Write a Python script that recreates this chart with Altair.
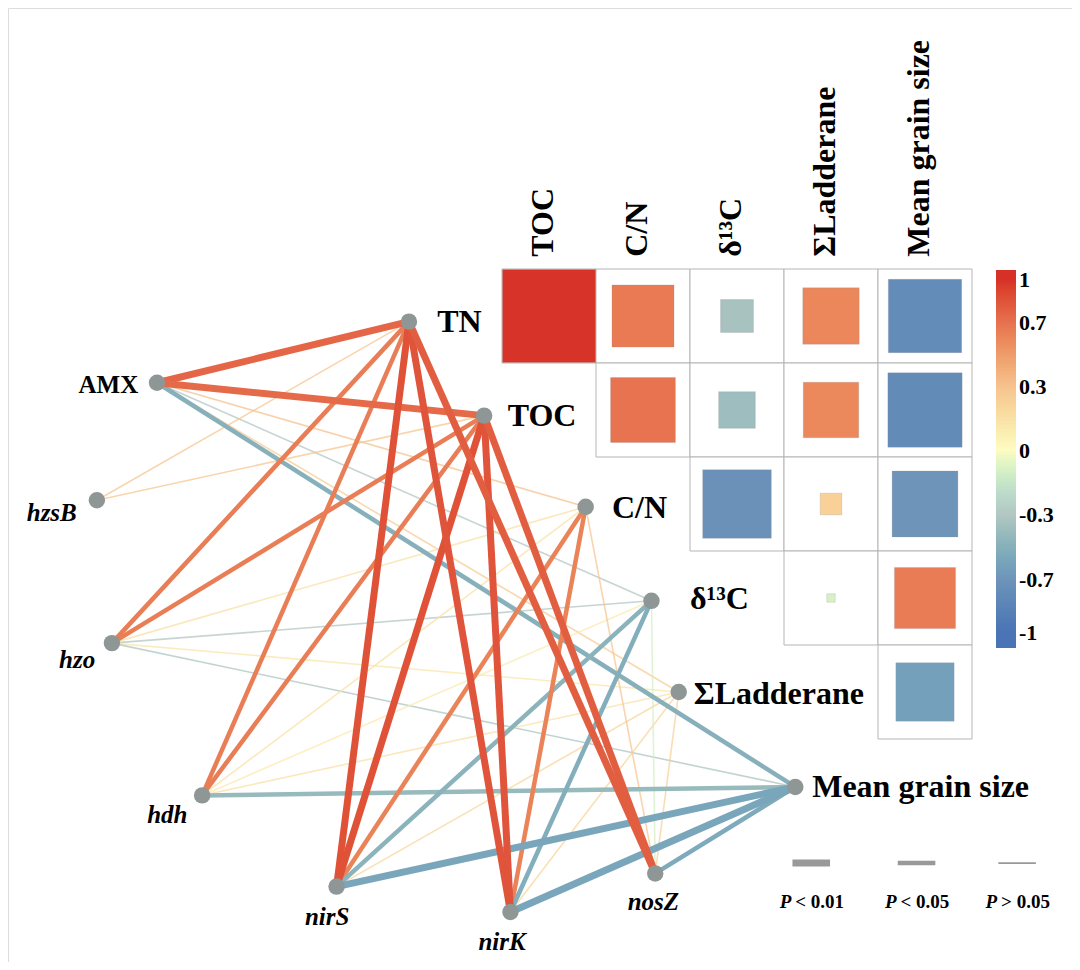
import altair as alt
import numpy as np
import pandas as pd

# ---------------- data ----------------
env = ["TN", "TOC", "C/N", "δ¹³C", "ΣLadderane", "Mean grain size"]
genes = ["AMX", "hzsB", "hzo", "hdh", "nirS", "nirK", "nosZ"]

# upper-triangle correlation matrix (rows: env[0..4], cols: env[1..5])
corr_rows = ["TN", "TN", "TN", "TN", "TN",
             "TOC", "TOC", "TOC", "TOC",
             "C/N", "C/N", "C/N",
             "δ¹³C", "δ¹³C",
             "ΣLadderane"]
corr_cols = ["TOC", "C/N", "δ¹³C", "ΣLadderane", "Mean grain size",
             "C/N", "δ¹³C", "ΣLadderane", "Mean grain size",
             "δ¹³C", "ΣLadderane", "Mean grain size",
             "ΣLadderane", "Mean grain size",
             "Mean grain size"]
corr_vals = [0.99, 0.66, -0.35, 0.60, -0.78,
             0.69, -0.39, 0.59, -0.79,
             -0.73, 0.23, -0.70,
             -0.09, 0.65,
             -0.62]

# gene - environment links (Mantel-type)
edge_gene = ["AMX"] * 6 + ["hzsB"] * 2 + ["hzo"] * 6 + ["hdh"] * 6 + ["nirS"] * 6 + ["nirK"] * 6 + ["nosZ"] * 6
edge_env = (env + ["TN", "TOC"] + env + env + env + env + env)
edge_r = [0.76, 0.74, 0.30, -0.30, 0.25, -0.50,
          0.28, 0.28,
          0.64, 0.64, 0.15, -0.30, 0.12, -0.32,
          0.64, 0.64, 0.15, 0.10, 0.15, -0.42,
          0.86, 0.86, 0.62, -0.48, 0.20, -0.58,
          0.85, 0.85, 0.62, -0.52, 0.20, -0.58,
          0.80, 0.80, 0.28, -0.10, 0.22, -0.55]
edge_p = ["P < 0.01", "P < 0.01", "P > 0.05", "P > 0.05", "P > 0.05", "P < 0.05",
          "P > 0.05", "P > 0.05",
          "P < 0.05", "P < 0.05", "P > 0.05", "P > 0.05", "P > 0.05", "P > 0.05",
          "P < 0.05", "P < 0.05", "P > 0.05", "P > 0.05", "P > 0.05", "P < 0.05",
          "P < 0.01", "P < 0.01", "P < 0.05", "P < 0.05", "P > 0.05", "P < 0.01",
          "P < 0.01", "P < 0.01", "P < 0.05", "P < 0.05", "P > 0.05", "P < 0.01",
          "P < 0.01", "P < 0.01", "P > 0.05", "P > 0.05", "P > 0.05", "P < 0.05"]

p_levels = ["P < 0.01", "P < 0.05", "P > 0.05"]
p_rest = ["< 0.01", "< 0.05", "> 0.05"]
cbar_ticks = [1, 0.7, 0.3, 0, -0.3, -0.7, -1]
cbar_tick_labels = ["1", "0.7", "0.3", "0", "-0.3", "-0.7", "-1"]

# ---------------- layout (matrix cell units) ----------------
node_u = [-0.99, -0.19, 0.89, 1.59, 1.88, 3.12, -3.67, -4.31, -4.15, -3.19, -1.76, 0.09, 1.63]
node_v = [0.56, 1.56, 2.53, 3.53, 4.50, 5.51, 1.21, 2.46, 3.98, 5.60, 6.57, 6.84, 6.43]
env_label_u = [-0.69, 0.06, 1.17, 2.00, 2.04, 3.30]
env_label_v = [0.56, 1.56, 2.54, 3.51, 4.52, 5.51]
gene_label_u = [-3.87, -4.79, -4.52, -3.56, -1.86, 0.0, 1.61]
gene_label_v = [1.23, 2.60, 4.16, 5.81, 6.89, 7.16, 6.73]
plegend_u = [3.29, 4.41, 5.48]
plegend_line_v = 6.32
plegend_text_v = 6.73
cbar_u = [5.255, 5.468]
cbar_label_u = 5.50

CELL = 94
W, H = 1064, 954
X0 = -494 / CELL
X1 = X0 + W / CELL
Y0 = -261 / CELL
Y1 = Y0 + H / CELL

FONT = "Liberation Serif"

color_scale = alt.Scale(domain=[-1, -0.7, -0.3, 0, 0.3, 0.7, 1],
                        range=["#4a74b4", "#6f94ba", "#b3c7c3", "#fdfdc2",
                               "#f6c28f", "#e7714f", "#d73027"], clamp=True)
xs = alt.Scale(domain=[X0, X1])
ys = alt.Scale(domain=[Y0, Y1], reverse=True)
# colour-bar position scale (piecewise, as in the original key)
cbar_ys = alt.Scale(domain=[-1.08, -1, -0.7, -0.3, 0, 0.3, 0.7, 1, 1.05],
                    range=[640, 625, 572, 507, 443, 379, 315, 272, 262])

def X(f):
    return alt.X(f, type="quantitative", scale=xs, axis=None)

def Y(f):
    return alt.Y(f, type="quantitative", scale=ys, axis=None)

# ---------------- tables ----------------
mat_order = env[:5]
col_order = env[1:]
cells = pd.DataFrame({"row": corr_rows, "col": corr_cols, "r": corr_vals})
cells["ri"] = cells["row"].map({n: i for i, n in enumerate(mat_order)})
cells["ci"] = cells["col"].map({n: i for i, n in enumerate(col_order)})
cells["x0"] = cells["ci"].astype(float)
cells["x1"] = cells["ci"] + 1.0
cells["y0"] = cells["ri"].astype(float)
cells["y1"] = cells["ri"] + 1.0
cells["xc"] = cells["ci"] + 0.5
cells["yc"] = cells["ri"] + 0.5
cells["absr"] = cells["r"].abs()

nodes = pd.DataFrame({"name": env + genes, "u": node_u, "v": node_v})
pos = nodes.set_index("name")

edges = pd.DataFrame({"gene": edge_gene, "env": edge_env, "r": edge_r, "p": edge_p})
edges["u"] = edges["gene"].map(pos["u"])
edges["v"] = edges["gene"].map(pos["v"])
edges["u2"] = edges["env"].map(pos["u"])
edges["v2"] = edges["env"].map(pos["v"])
edges["rank"] = edges["p"].map({"P > 0.05": 0, "P < 0.05": 1, "P < 0.01": 2})
edges = edges.sort_values(["rank"], kind="stable").reset_index(drop=True)

env_labels = pd.DataFrame({"name": env, "u": env_label_u, "v": env_label_v})
col_labels = pd.DataFrame({"name": col_order,
                           "u": [i + 0.44 for i in range(len(col_order))],
                           "v": [-0.13] * len(col_order)})
gene_labels = pd.DataFrame({"name": genes, "u": gene_label_u, "v": gene_label_v})

pleg = pd.DataFrame({"p": p_levels, "rest": p_rest, "u": plegend_u})
pleg["ua"] = pleg["u"] - 0.2
pleg["ub"] = pleg["u"] + 0.2
pleg["v"] = plegend_line_v
pleg["vt"] = plegend_text_v
pleg["P"] = "P"

# colour-bar gradient strips (overlapping slightly to avoid seams)
grad = np.round(np.arange(-1.08, 1.05, 0.01), 2)
cbar = pd.DataFrame({"r": grad, "r2": np.minimum(grad + 0.025, 1.05),
                     "ua": cbar_u[0], "ub": cbar_u[1]})
cbar_lab = pd.DataFrame({"r": cbar_ticks, "label": cbar_tick_labels, "u": cbar_label_u})

sw = alt.StrokeWidth("p:N", scale=alt.Scale(type="ordinal", domain=p_levels,
                                            range=[7, 4.5, 1.6]), legend=None)
op = alt.Opacity("p:N", scale=alt.Scale(type="ordinal", domain=p_levels,
                                        range=[1, 1, 0.75]), legend=None)

# ---------------- layers ----------------
grid = alt.Chart(cells).mark_rect(fill="white", stroke="#b5b5b5", strokeWidth=1).encode(
    x=X("x0"), x2="x1", y=Y("y0"), y2="y1")

squares = alt.Chart(cells).mark_square(opacity=1, stroke="#8f8f8f", strokeWidth=0.4,
                                       strokeOpacity=0.6).encode(
    x=X("xc"), y=Y("yc"),
    size=alt.Size("absr:Q", scale=alt.Scale(type="pow", exponent=2, domain=[0, 1],
                                            range=[0, CELL * CELL]), legend=None),
    color=alt.Color("r:Q", scale=color_scale, legend=None))

links = alt.Chart(edges).mark_rule(strokeCap="butt").encode(
    x=X("u"), y=Y("v"), x2="u2", y2="v2",
    color=alt.Color("r:Q", scale=color_scale, legend=None),
    strokeWidth=sw, opacity=op,
    order=alt.Order("rank:Q"))

dots = alt.Chart(nodes).mark_circle(color="#8e9696", opacity=1, size=270).encode(
    x=X("u"), y=Y("v"))

env_text = alt.Chart(env_labels).mark_text(
    align="left", baseline="middle", font=FONT, fontSize=32, fontWeight="bold",
    color="black").encode(x=X("u"), y=Y("v"), text="name:N")

col_text = alt.Chart(col_labels).mark_text(
    align="left", baseline="middle", angle=270, font=FONT, fontSize=32,
    fontWeight="bold", color="black").encode(x=X("u"), y=Y("v"), text="name:N")

amx_text = alt.Chart(gene_labels[gene_labels["name"] == "AMX"]).mark_text(
    align="right", baseline="middle", font=FONT, fontSize=25, fontWeight="bold",
    color="black").encode(x=X("u"), y=Y("v"), text="name:N")

gene_text = alt.Chart(gene_labels[gene_labels["name"] != "AMX"]).mark_text(
    align="center", baseline="middle", font=FONT, fontSize=25, fontWeight="bold",
    fontStyle="italic", color="black").encode(x=X("u"), y=Y("v"), text="name:N")

pleg_lines = alt.Chart(pleg).mark_rule(color="#999999", strokeCap="butt").encode(
    x=X("ua"), x2="ub", y=Y("v"), strokeWidth=sw)

pleg_P = alt.Chart(pleg).mark_text(
    align="right", baseline="middle", font=FONT, fontSize=19, fontWeight="bold",
    fontStyle="italic", color="black", dx=-20).encode(x=X("u"), y=Y("vt"), text="P:N")

pleg_rest = alt.Chart(pleg).mark_text(
    align="left", baseline="middle", font=FONT, fontSize=19, fontWeight="bold",
    color="black", dx=-16).encode(x=X("u"), y=Y("vt"), text="rest:N")

main = alt.layer(grid, squares, links, dots, env_text, col_text, amx_text,
                 gene_text, pleg_lines, pleg_P, pleg_rest)

cbar_rects = alt.Chart(cbar).mark_rect(strokeWidth=0).encode(
    x=X("ua"), x2="ub",
    y=alt.Y("r:Q", scale=cbar_ys, axis=None), y2="r2",
    color=alt.Color("r:Q", scale=color_scale, legend=None))

cbar_text = alt.Chart(cbar_lab).mark_text(
    align="left", baseline="middle", font=FONT, fontSize=22, fontWeight="bold",
    color="black").encode(
    x=X("u"), y=alt.Y("r:Q", scale=cbar_ys, axis=None), text="label:N")

key = alt.layer(cbar_rects, cbar_text)

chart = alt.layer(main, key).resolve_scale(y="independent").properties(
    width=W, height=H, padding=0, autosize=alt.AutoSizeParams(type="none")
).configure_view(strokeWidth=0).configure(background="white")

chart.save("out.html", embed_options={"renderer": "svg", "actions": False})
